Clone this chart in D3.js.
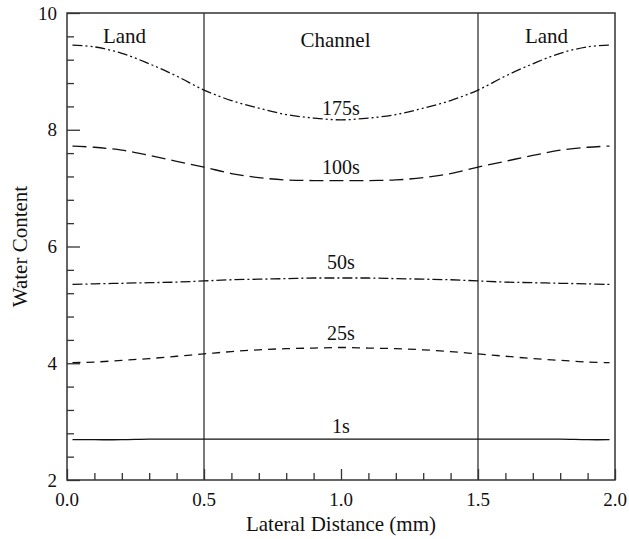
<!DOCTYPE html>
<html lang="en">
<head>
<meta charset="UTF-8">
<title>Water content profiles</title>
<script src="https://d3js.org/d3.v7.min.js"></script>
<style>
  body { margin: 0; background: #fff; }
</style>
</head>
<body>
<div id="my_dataviz"></div>
<script>

// lateral positions (mm)
var xs = [0.02, 0.1, 0.2, 0.3, 0.4, 0.5, 0.6, 0.7, 0.8, 0.9, 1.0,
          1.1, 1.2, 1.3, 1.4, 1.5, 1.6, 1.7, 1.8, 1.9, 1.98];

// water content for each time
var s175 = [9.45, 9.42, 9.31, 9.13, 8.92, 8.68, 8.50, 8.37, 8.26, 8.20, 8.17,
            8.20, 8.26, 8.37, 8.50, 8.68, 8.92, 9.13, 9.31, 9.42, 9.45];
var s100 = [7.72, 7.70, 7.65, 7.56, 7.46, 7.36, 7.25, 7.18, 7.14, 7.13, 7.13,
            7.13, 7.14, 7.18, 7.25, 7.36, 7.46, 7.56, 7.65, 7.70, 7.72];
var s50  = [5.35, 5.36, 5.37, 5.38, 5.39, 5.41, 5.43, 5.44, 5.45, 5.46, 5.46,
            5.46, 5.45, 5.44, 5.43, 5.41, 5.39, 5.38, 5.37, 5.36, 5.35];
var s25  = [4.01, 4.02, 4.05, 4.08, 4.12, 4.16, 4.20, 4.23, 4.25, 4.26, 4.27,
            4.26, 4.25, 4.23, 4.20, 4.16, 4.12, 4.08, 4.05, 4.02, 4.01];
var s1   = [2.69, 2.69, 2.69, 2.70, 2.70, 2.70, 2.70, 2.70, 2.70, 2.70, 2.70,
            2.70, 2.70, 2.70, 2.70, 2.70, 2.70, 2.70, 2.70, 2.69, 2.69];

var seriesNames = ["175s", "100s", "50s", "25s", "1s"];
var seriesVals  = [s175, s100, s50, s25, s1];
var dashes      = ["10,3,2,3,2,3", "14,6", "10,3,2,3", "8,6", null];
var labelVals   = [8.26, 7.24, 5.61, 4.40, 2.80];   // y value of the label baseline

var xTicks = [0.0, 0.5, 1.0, 1.5, 2.0];
var yTicks = [2, 4, 6, 8, 10];
var regions = [{name: "Land", x: 0.21}, {name: "Channel", x: 0.98}, {name: "Land", x: 1.75}];

var W = 629, H = 539;
var margin = {top: 13, right: 14, bottom: 59, left: 67},
    width = W - margin.left - margin.right,
    height = H - margin.top - margin.bottom;

var serif = '"Liberation Serif", "Times New Roman", "DejaVu Serif", serif';

var svg = d3.select("#my_dataviz")
  .append("svg")
    .attr("width", W)
    .attr("height", H)
    .style("font-family", serif)
  .append("g")
    .attr("transform", "translate(" + margin.left + "," + margin.top + ")");

var x = d3.scaleLinear().domain([0, 2]).range([0, width]);
var y = d3.scaleLinear().domain([2, 10]).range([height, 0]);

var stroke = "#333";

// bottom axis: ticks inside
var xAxis = svg.append("g")
  .attr("transform", "translate(0," + height + ")")
  .call(d3.axisBottom(x).tickValues(d3.range(0, 2.001, 0.1)).tickSizeInner(-7).tickSizeOuter(0).tickFormat(""));
xAxis.selectAll(".tick line")
  .attr("y2", function(d) { return Math.abs(d * 2 - Math.round(d * 2)) < 1e-6 ? -11 : -7; })
  .attr("stroke", stroke).attr("stroke-width", 1.3);
xAxis.select(".domain").remove();

svg.selectAll(".xlab")
  .data(xTicks)
  .enter().append("text")
    .attr("x", function(d) { return x(d); })
    .attr("y", height + 26)
    .attr("text-anchor", "middle")
    .style("font-size", "19px")
    .style("font-family", serif)
    .attr("fill", "#111")
    .text(function(d) { return d.toFixed(1); });

// left axis
var yAxis = svg.append("g")
  .call(d3.axisLeft(y).tickValues(d3.range(2, 10.001, 0.4)).tickSizeInner(-7).tickSizeOuter(0).tickFormat(""));
yAxis.selectAll(".tick line")
  .attr("x2", function(d) { return Math.abs(d / 2 - Math.round(d / 2)) < 1e-6 ? 13 : 7; })
  .attr("stroke", stroke).attr("stroke-width", 1.3);
yAxis.select(".domain").remove();

svg.selectAll(".ylab")
  .data(yTicks)
  .enter().append("text")
    .attr("x", -10)
    .attr("y", function(d) { return y(d); })
    .attr("dy", "0.35em")
    .attr("text-anchor", "end")
    .style("font-size", "19px")
    .style("font-family", serif)
    .attr("fill", "#111")
    .text(function(d) { return d; });

// frame
svg.append("rect")
  .attr("width", width).attr("height", height)
  .attr("fill", "none").attr("stroke", stroke).attr("stroke-width", 1.5);

// channel borders
svg.selectAll(".border")
  .data([0.5, 1.5])
  .enter().append("line")
    .attr("x1", function(d) { return x(d); })
    .attr("x2", function(d) { return x(d); })
    .attr("y1", 0).attr("y2", height)
    .attr("stroke", stroke).attr("stroke-width", 1.3);

// curves
var line = d3.line()
  .x(function(d) { return x(d[0]); })
  .y(function(d) { return y(d[1]); })
  .curve(d3.curveCatmullRom);

seriesVals.forEach(function(vals, i) {
  svg.append("path")
    .datum(xs.map(function(v, j) { return [v, vals[j]]; }))
    .attr("fill", "none")
    .attr("stroke", "#111")
    .attr("stroke-width", 1.3)
    .attr("stroke-dasharray", dashes[i])
    .attr("d", line);

  svg.append("text")
    .attr("x", x(1.0))
    .attr("y", y(labelVals[i]))
    .attr("text-anchor", "middle")
    .style("font-size", "20px")
    .style("font-family", serif)
    .attr("fill", "#111")
    .text(seriesNames[i]);
});

// region labels
svg.selectAll(".region")
  .data(regions)
  .enter().append("text")
    .attr("x", function(d) { return x(d.x); })
    .attr("y", function(d) { return d.name == "Channel" ? 34 : 30; })
    .attr("text-anchor", "middle")
    .style("font-size", "21px")
    .style("font-family", serif)
    .attr("fill", "#111")
    .text(function(d) { return d.name; });

// axis titles
svg.append("text")
  .attr("x", width / 2)
  .attr("y", height + 51)
  .attr("text-anchor", "middle")
  .style("font-size", "21px")
  .style("font-family", serif)
  .attr("fill", "#111")
  .text("Lateral Distance (mm)");

svg.append("text")
  .attr("transform", "translate(" + (-40) + "," + (height / 2) + ") rotate(-90)")
  .attr("text-anchor", "middle")
  .style("font-size", "21px")
  .style("font-family", serif)
  .attr("fill", "#111")
  .text("Water Content");

</script>
</body>
</html>
